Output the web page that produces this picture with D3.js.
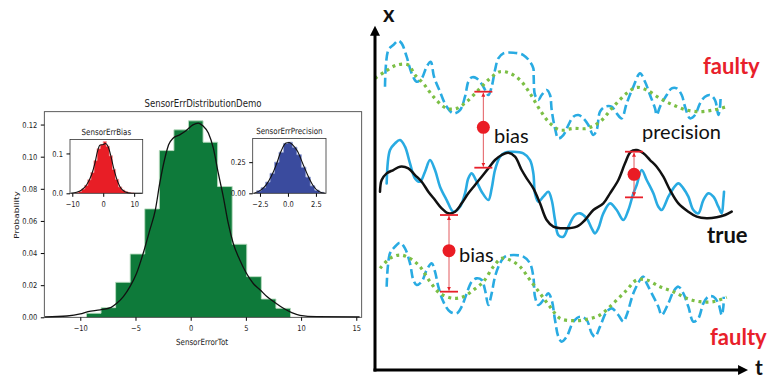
<!DOCTYPE html>
<html>
<head>
<meta charset="utf-8">
<script src="https://cdn.jsdelivr.net/npm/d3@7"></script>
<style>
body{margin:0;background:#fff;}
svg{display:block;}
.mpl text{font-family:"DejaVu Sans",sans-serif;fill:#222;}
.sketch text{font-family:Lato,"Open Sans",sans-serif;}
</style>
</head>
<body>
<div id="chart"></div>
<script>
// ---- left panel data ----
const totEdges = [-9.44,-8.12,-6.80,-5.48,-4.16,-2.84,-1.52,-0.20,1.12,2.44,3.76,5.08,6.40,7.72,9.04];
const totProb = [0.0025,0.006,0.0218,0.0394,0.0675,0.1038,0.1167,0.1223,0.109,0.0814,0.0455,0.0253,0.0114,0.0056];
const totKdeX = [-13.2,-11.2,-10.0,-9.3,-8.2,-7.2,-6.7,-6.1,-5.5,-4.9,-4.3,-3.7,-3.2,-2.8,-2.3,-2.0,-1.6,-1.0,-0.4,0.2,0.7,1.1,1.6,2.05,2.5,2.95,3.4,3.85,4.45,5.05,5.65,6.3,6.9,7.65,8.4,9.15,9.9,11.4,15.3];
const totKdeY = [0.0002,0.0008,0.0021,0.0035,0.0046,0.0062,0.0087,0.0129,0.0191,0.0274,0.0399,0.0544,0.0669,0.0835,0.1001,0.1074,0.1115,0.1136,0.1163,0.1198,0.1209,0.1192,0.1147,0.1053,0.0897,0.0752,0.0586,0.0461,0.0357,0.0274,0.0212,0.017,0.0129,0.0091,0.0056,0.0029,0.0012,0.0004,0.0002];
const totXTicks = [-10,-5,0,5,10,15];
const totYTicks = [0,0.02,0.04,0.06,0.08,0.10,0.12];

const biasEdges = [-9,-8,-7,-6,-5,-4,-3,-2,-1,0,1,2,3,4,5,6,7,8,9,10];
const biasProb = [0.002,0.005,0.011,0.02,0.034,0.052,0.082,0.112,0.122,0.13,0.118,0.094,0.06,0.035,0.016,0.008,0.004,0.002,0.001];
const biasKdeX = [-10.5,-8.6,-7.0,-5.4,-3.8,-2.7,-1.9,-1.1,0,0.8,1.6,2.4,3.25,4.3,5.4,7.0,9.2,12.5];
const biasKdeY = [0,0.0025,0.0083,0.0208,0.0458,0.075,0.104,0.1208,0.1225,0.125,0.1167,0.0958,0.0667,0.0375,0.0167,0.0042,0.0003,0];
const biasXTicks = [-10,0,10];
const biasYTicks = [0,0.1];

const precEdges = [-2.8,-2.4,-2.0,-1.6,-1.2,-0.8,-0.4,0,0.4,0.8,1.2,1.6,2.0,2.4,2.8,3.2];
const precProb = [0.02,0.045,0.09,0.16,0.25,0.33,0.40,0.41,0.37,0.31,0.21,0.13,0.06,0.025,0.008];
const precKdeX = [-3.05,-2.4,-1.95,-1.5,-1.05,-0.63,-0.18,0.12,0.42,0.87,1.31,1.76,2.21,2.8,3.35];
const precKdeY = [0,0.027,0.067,0.134,0.228,0.335,0.403,0.408,0.389,0.335,0.242,0.147,0.067,0.013,0];
const precXTicks = [-2.5,0,2.5];
const precYTicks = [0,0.25];

// ---- right panel data: [t, x] points of the sketched signals ----
const faultyHighRaw = [[3,85],[4,96],[5.5,97.5],[7,98.8],[8,98],[9.5,94],[11,89],[12.5,86.5],[14,87.5],[15.5,91],[16.7,92.5],[17.7,88],[19.5,83.5],[21.5,79],[23.5,77],[25.5,78],[27,82],[28,86.5],[29,87.8],[30.5,87.5],[32.5,85],[34,82.5],[35,85],[36,90],[37,93.5],[38.5,95],[41.5,95.2],[44.5,94.5],[46.5,92.5],[47.5,90.5],[47.6,88],[48,82.5],[49,81],[50,82.5],[51.5,84],[52.5,82.5],[53,78],[54,72.5],[55,69.5],[56.5,70.5],[58,73.5],[59.5,76],[61,76.5],[62.5,75.5],[64,73.5],[65.5,70.5],[66.5,72],[67.5,77.5],[69,79],[71,79],[72.5,77],[74,75.5],[75.5,80],[77.5,85],[79.5,89],[81,86.5],[82.5,82.5],[84,78.5],[84.5,76.5],[85.5,79],[87.5,82.5],[89,84.5],[90.5,84.5],[92,82.5],[93,79],[94.5,75.5],[96,76.5],[97.5,80],[99,82],[100.5,82.5],[102,81],[103,76.5],[103.5,79],[103.7,82.5]];
const faultyHighTrend = [[0,87.5],[3,89.5],[6.5,91.5],[10,91.5],[12,88.5],[14.5,86],[17.5,82],[21.5,78.5],[24.5,78.5],[27.5,80.5],[31,84],[34.5,87.5],[37.5,89.5],[40.5,89],[43.5,87],[46.5,83],[49.5,78],[52.5,74],[55.5,72],[59.5,72.5],[63.5,72.5],[67.5,74.5],[71.5,79],[75.5,83],[78.5,84.8],[81.5,84],[85.5,81.5],[89.5,79.5],[93.5,78],[97.5,77.5],[101.5,78],[105.5,79]];
const measured = [[3.5,56],[4.5,66],[6,68],[7.5,69],[9,67],[10.5,62],[12,57.5],[13.5,56.5],[15,59.5],[16.5,63],[18,60],[19.5,55],[21.5,51],[23.5,47.5],[25.5,49],[27,53],[28,57.5],[29,59],[30.5,56.5],[32,53.5],[34,51],[35,54.5],[36,60],[37.5,64],[39,65.2],[41.5,65.5],[44.5,65],[46.5,63],[47.5,59],[48,53],[49,50.5],[50.5,52],[52,53.5],[53,51],[54,45],[55,40.5],[56.5,40],[58,43],[60,46.5],[61.5,47],[63.5,45.5],[65,42.5],[66,41],[67,42.5],[68.5,47],[70.5,50],[72.5,48],[74.5,45],[76,48],[77.5,53],[78.5,55.5],[80,60],[81.5,57],[83.5,53],[85,49],[86,48],[88,52],[89.5,54.5],[91,56],[92.5,54.5],[94,52],[95.5,48],[97,47],[98.5,51],[100,53],[101.5,52],[103,49],[104,47],[104.5,51],[104.7,53.5]];
const trueSignal = [[1.5,53.5],[2,57],[3.5,59],[5.5,60],[7.5,61],[10,60.5],[12,58.5],[14,56.5],[16,53.5],[18,51],[20,48.5],[22,47],[24,47.5],[26,50],[28,53],[30,55.5],[32,58],[34,60.5],[36,63],[38,64.5],[40,65.2],[42,64],[44,60],[45.5,57.5],[47.5,54.5],[49.5,50],[51.5,45],[53.5,43],[56.5,42.5],[60.5,43],[63,45],[65.5,48],[68.5,50],[70.5,53],[73,57],[75,62],[76.7,65.5],[78.5,66],[80.5,65],[82.5,63],[84.5,61],[86.5,58],[88.5,54],[91,50],[94,47.5],[96.5,46],[99.5,45.5],[102.5,45.8],[105,46.5],[107,47.5]];
const faultyLowRaw = [[3.5,25],[4.5,35],[6,37],[7.5,38.2],[9,36.5],[10.5,32],[11.5,27],[12.5,25.5],[14,26.5],[15.5,30],[17,32],[18,29.5],[19,25],[20.5,20.5],[22.5,17.5],[24.5,17],[26,19],[27.5,23],[29,26.5],[30.5,27.5],[32,27],[33,24],[34,19.5],[35,23],[36,28],[37.5,32],[39,34],[41.5,34.5],[44.5,34],[46.5,32],[47.5,28],[48,22],[49,19.5],[50.5,21],[52,23],[53,21],[54,15],[55,10],[56,8.5],[57.5,10],[59.5,14.5],[61.5,16],[63.5,15],[65,11],[66,10],[67.5,13],[69.5,17.5],[71,18.5],[73,16.5],[74.5,14.5],[75.5,16.5],[77.5,23],[79.5,27],[80.5,28],[81.5,26],[83,23],[85,19],[86,16.5],[88,20],[89.5,23.5],[91,25],[92.5,23],[94,19],[95.5,14.5],[97,15.5],[98.5,20],[100,22],[101.5,22],[103,20],[104,16.5],[104.5,19],[104.6,22]];
const faultyLowTrend = [[1.5,30.5],[4.5,33.5],[7.5,34.5],[10.5,33.5],[13.5,31],[16.5,26.5],[19.5,23],[23.5,21.5],[26.5,22],[29.5,24],[32.5,26.5],[35.5,31],[38,33.5],[40.5,33],[43.5,31],[46.5,27],[49.5,23],[52.5,19],[55.5,15.5],[59.5,14.8],[63.5,15.2],[67.5,16.5],[71.5,20],[75.5,24],[78.5,27],[81.5,27],[85.5,25],[89.5,23.5],[93.5,21.5],[97.5,20.5],[101.5,20.5],[105.5,21.8]];

// error bars: bias (upper), bias (lower), precision
const errT = [32.5,22.2,77.7];
const errTop = [83.5,46.5,65.5];
const errBottom = [60.7,23.5,51.8];
const errDot = [72.8,35.8,58.7];

const svg = d3.select("#chart").append("svg")
    .attr("width",776)
    .attr("height",378);

const squeeze = 0.84; // the matplotlib figure is horizontally compressed

function histPanel(cfg){
    let x = d3.scaleLinear().domain(cfg.xDomain).range([cfg.left,cfg.right]);
    let y = d3.scaleLinear().domain(cfg.yDomain).range([cfg.bottom,cfg.top]);
    let g = svg.append("g").attr("class","mpl");

    g.append("rect")
        .attr("x",cfg.left).attr("y",cfg.top)
        .attr("width",cfg.right-cfg.left).attr("height",cfg.bottom-cfg.top)
        .attr("fill","#fff");

    // filled step histogram with a light outline
    let steps = cfg.edges.map((e,i)=>[e, i<cfg.prob.length ? cfg.prob[i] : 0]);
    steps.unshift([cfg.edges[0],0]);
    let stepLine = d3.line()
        .x(d=>x(d[0]))
        .y(d=>y(d[1]))
        .curve(d3.curveStepAfter);
    g.append("path").datum(steps)
        .attr("d",stepLine)
        .attr("fill",cfg.color)
        .attr("stroke",cfg.edge)
        .attr("stroke-width",0.9);

    // density curve
    let line = d3.line()
        .x((d,i)=>x(cfg.kdeX[i]))
        .y(d=>y(d))
        .curve(d3.curveMonotoneX);
    g.append("path").datum(cfg.kdeY)
        .attr("d",line)
        .attr("fill","none")
        .attr("stroke","#111")
        .attr("stroke-width",cfg.lw);

    // frame
    g.append("rect")
        .attr("x",cfg.left).attr("y",cfg.top)
        .attr("width",cfg.right-cfg.left).attr("height",cfg.bottom-cfg.top)
        .attr("fill","none").attr("stroke","#333").attr("stroke-width",0.8);

    let xa = g.append("g")
        .attr("transform",`translate(0,${cfg.bottom})`)
        .call(d3.axisBottom(x).tickValues(cfg.xTicks).tickSize(3.5).tickPadding(4.4).tickFormat(d3.format(cfg.xFmt)));
    xa.select(".domain").remove();
    xa.selectAll("text").attr("transform",`scale(${squeeze},1)`).style("font-size","8px");

    let ya = g.append("g")
        .attr("transform",`translate(${cfg.left},0)`)
        .call(d3.axisLeft(y).tickValues(cfg.yTicks).tickSize(3.5).tickFormat(d3.format(cfg.yFmt)));
    ya.select(".domain").remove();
    ya.selectAll("text").attr("x",-7/squeeze).attr("transform",`scale(${squeeze},1)`).style("font-size","8px");

    g.append("text")
        .attr("transform",`translate(${(cfg.left+cfg.right)/2},${cfg.top-4.5}) scale(${squeeze},1)`)
        .attr("text-anchor","middle")
        .style("font-size",cfg.titleSize+"px")
        .text(cfg.title);
    return g;
}

let mainG = histPanel({left:44.3,right:361.7,top:111.7,bottom:317.3,
    xDomain:[-13.26,15.49],yDomain:[0,0.128],
    edges:totEdges,prob:totProb,kdeX:totKdeX,kdeY:totKdeY,
    xTicks:totXTicks,yTicks:totYTicks,xFmt:"d",yFmt:".2f",
    color:"#0e7a3a",edge:"#b9dcbf",lw:1.3,title:"SensorErrDistributionDemo",titleSize:10.2});

mainG.append("text")
    .attr("transform",`translate(202,344.5) scale(${squeeze},1)`)
    .attr("text-anchor","middle")
    .style("font-size","8.5px")
    .text("SensorErrorTot");
mainG.append("text")
    .attr("transform",`translate(19,215) rotate(-90) scale(1,${squeeze})`)
    .attr("text-anchor","middle")
    .style("font-size","9px")
    .text("Probability");

histPanel({left:70,right:142.7,top:139.5,bottom:193.3,
    xDomain:[-10.74,12.76],yDomain:[0,0.135],
    edges:biasEdges,prob:biasProb,kdeX:biasKdeX,kdeY:biasKdeY,
    xTicks:biasXTicks,yTicks:biasYTicks,xFmt:"d",yFmt:".1f",
    color:"#e81e26",edge:"#f5a0a0",lw:1.1,title:"SensorErrBias",titleSize:8.5});

histPanel({left:252.7,right:326,top:138.5,bottom:193.3,
    xDomain:[-3.15,3.4],yDomain:[0,0.44],
    edges:precEdges,prob:precProb,kdeX:precKdeX,kdeY:precKdeY,
    xTicks:precXTicks,yTicks:precYTicks,xFmt:".1f",yFmt:".2f",
    color:"#3a4b9e",edge:"#9aa6d6",lw:1.1,title:"SensorErrPrecision",titleSize:8.5});

// ---- right panel: sketch of true vs faulty signals ----
const tScale = d3.scaleLinear().domain([0,111.5]).range([375,746.7]);
const xScale = d3.scaleLinear().domain([0,103]).range([370,26.7]);
const sketch = d3.line()
    .x(d=>tScale(d[0]))
    .y(d=>xScale(d[1]))
    .curve(d3.curveCatmullRom.alpha(0.5));

let rg = svg.append("g").attr("class","sketch");

const blue = "#29abe2", green = "#7cbf45", red = "#e8202a";

function drawSignal(data,color,width,dash,cap){
    rg.append("path").datum(data)
        .attr("d",sketch)
        .attr("fill","none")
        .attr("stroke",color)
        .attr("stroke-width",width)
        .attr("stroke-dasharray",dash)
        .attr("stroke-linecap",cap)
        .attr("stroke-linejoin","round");
}

drawSignal(faultyHighRaw,blue,2.6,"9,4","butt");
drawSignal(faultyHighTrend,green,3.2,"3,4","butt");
drawSignal(measured,blue,2.6,null,"round");
drawSignal(trueSignal,"#111",2.5,null,"round");
drawSignal(faultyLowRaw,blue,2.6,"9,4","butt");
drawSignal(faultyLowTrend,green,3.2,"3,4","butt");

// axes with arrow heads
const t0 = tScale(0), x0 = xScale(0), tEnd = tScale(111.9), xEnd = xScale(103.3);
rg.append("line").attr("x1",t0).attr("y1",x0+1.5).attr("x2",t0).attr("y2",xEnd+8)
    .attr("stroke","#000").attr("stroke-width",3);
rg.append("line").attr("x1",t0-1.5).attr("y1",x0).attr("x2",tEnd-8).attr("y2",x0)
    .attr("stroke","#000").attr("stroke-width",3);
rg.append("path").attr("d",`M${t0},${xEnd} L${t0-5},${xEnd+10} L${t0+5},${xEnd+10} Z`).attr("fill","#000");
rg.append("path").attr("d",`M${tEnd},${x0} L${tEnd-10},${x0-5} L${tEnd-10},${x0+5} Z`).attr("fill","#000");

// bias / precision error bars
svg.append("defs").append("marker")
    .attr("id","tip").attr("viewBox","0 0 6 6").attr("refX",6).attr("refY",3)
    .attr("markerWidth",4).attr("markerHeight",4).attr("orient","auto-start-reverse")
    .append("path").attr("d","M0,0 L6,3 L0,6 Z").attr("fill",red);

errT.forEach((t,i)=>{
    let cx = tScale(t);
    rg.append("line")
        .attr("x1",cx).attr("x2",cx)
        .attr("y1",xScale(errTop[i])+1).attr("y2",xScale(errBottom[i])-1)
        .attr("stroke","#e35a5e").attr("stroke-width",1)
        .attr("marker-start","url(#tip)").attr("marker-end","url(#tip)");
    [errTop[i],errBottom[i]].forEach(v=>{
        rg.append("line")
            .attr("x1",cx-9).attr("x2",cx+9)
            .attr("y1",xScale(v)).attr("y2",xScale(v))
            .attr("stroke",red).attr("stroke-width",1.8);
    });
    rg.append("circle").attr("cx",cx).attr("cy",xScale(errDot[i])).attr("r",6.5).attr("fill","#ea1c24");
});

// annotations
const labels = [
    {text:"x",x:383,y:22,size:22,weight:"bold",color:"#111"},
    {text:"t",x:755,y:375,size:21,weight:"bold",color:"#111"},
    {text:"faulty",x:703,y:74,size:22,weight:"bold",color:red},
    {text:"faulty",x:710,y:345,size:22,weight:"bold",color:red},
    {text:"true",x:707,y:242.5,size:22,weight:"bold",color:"#111"},
    {text:"precision",x:642,y:138.5,size:20,weight:"normal",color:"#111"},
    {text:"bias",x:494,y:143,size:20,weight:"normal",color:"#111"},
    {text:"bias",x:459,y:261.5,size:20,weight:"normal",color:"#111"}
];
rg.selectAll(".lbl").data(labels).join("text")
    .attr("class","lbl")
    .attr("x",d=>d.x).attr("y",d=>d.y)
    .style("font-size",d=>d.size+"px")
    .style("font-weight",d=>d.weight)
    .attr("fill",d=>d.color)
    .text(d=>d.text);
</script>
</body>
</html>
